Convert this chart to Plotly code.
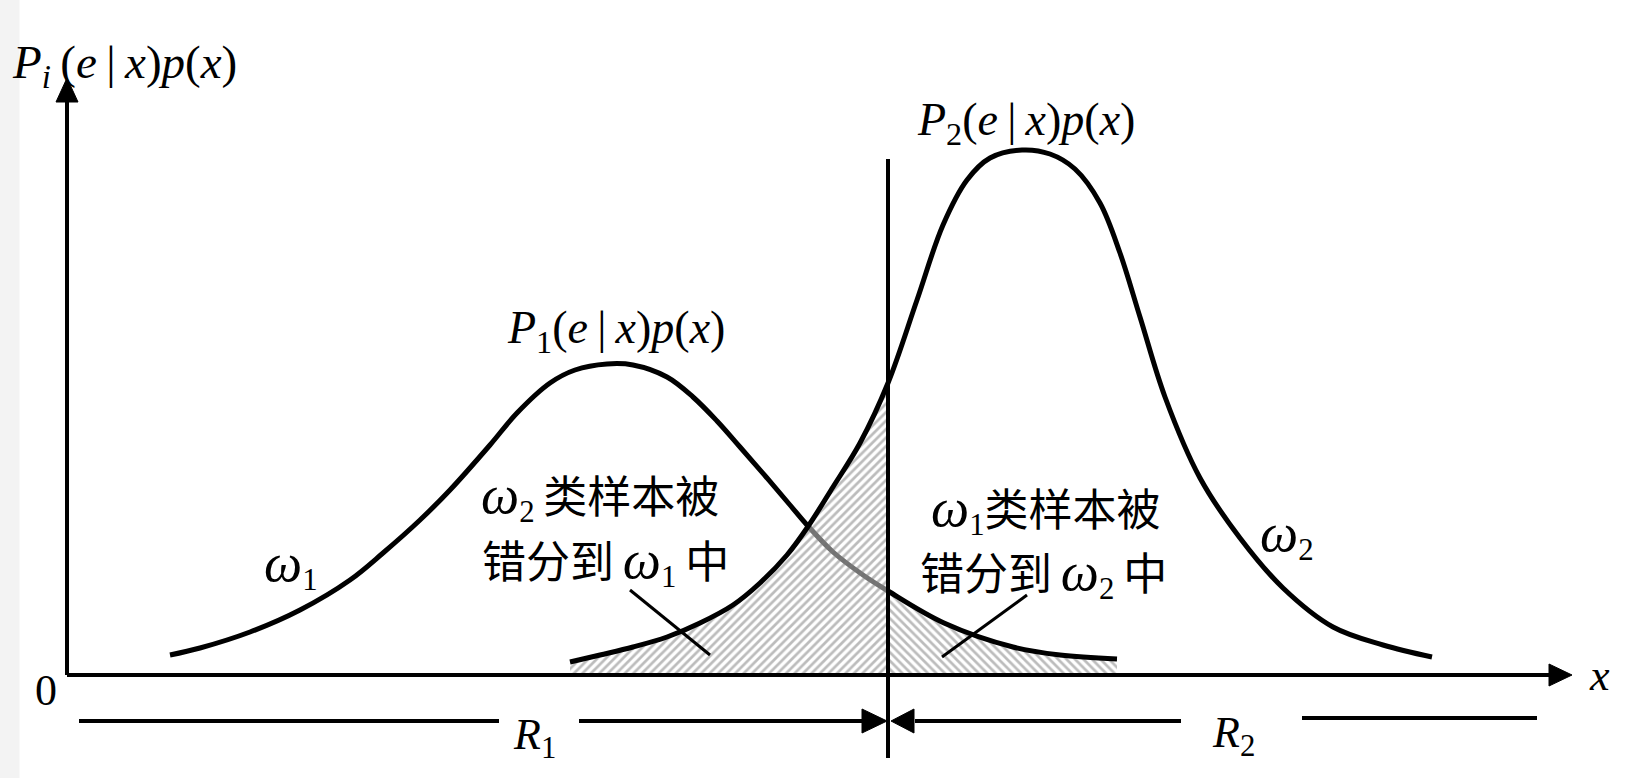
import plotly.graph_objects as go

# ---- data (x: position along the x axis, y: height above it) ----
c1_x = [103, 133, 183, 233, 283, 316, 353, 383, 423, 450, 483, 508, 540, 566, 600, 626,
        650, 673, 700, 723, 740, 766, 796, 821, 877, 946, 993, 1050]
c1_y = [20, 27, 43, 65, 95, 122, 155, 185, 230, 262, 292, 305, 311, 310, 298, 278,
        254, 228, 197, 170, 150, 123, 100, 84, 52, 28, 20, 16]
c2_x = [503, 533, 566, 600, 633, 666, 693, 720, 740, 766, 793, 821, 850, 876, 900, 923,
        955, 983, 1008, 1033, 1053, 1073, 1098, 1133, 1173, 1216, 1266, 1316, 1365]
c2_y = [13, 20, 28, 38, 52, 70, 92, 120, 147, 188, 232, 292, 375, 450, 495, 517,
        525, 521, 506, 472, 422, 358, 278, 197, 137, 87, 48, 30, 18]
decision_x = 821

FONT = "Liberation Serif, 'Noto Sans CJK SC', serif"
BLACK = "black"
SPL = dict(shape="spline", smoothing=1.0)

fig = go.Figure()

# right hatched region: omega1 samples on the omega2 side
r_x = [x for x in c1_x if x >= decision_x]
r_y = [y for x, y in zip(c1_x, c1_y) if x >= decision_x]
fig.add_trace(go.Scatter(
    x=r_x, y=r_y, mode="lines", line=dict(width=0, **SPL),
    fill="tozeroy",
    fillpattern=dict(shape="\\", size=6, solidity=0.45, fgcolor="#7a7a7a",
                     bgcolor="rgba(255,255,255,0)"),
    hoverinfo="skip"))

# curve 1
fig.add_trace(go.Scatter(x=c1_x, y=c1_y, mode="lines",
                         line=dict(color=BLACK, width=5, **SPL), hoverinfo="skip"))

# left hatched region: omega2 samples on the omega1 side (drawn over curve 1)
l_x = [x for x in c2_x if x <= decision_x]
l_y = [y for x, y in zip(c2_x, c2_y) if x <= decision_x]
fig.add_trace(go.Scatter(
    x=l_x, y=l_y, mode="lines", line=dict(width=0, **SPL),
    fill="tozeroy",
    fillpattern=dict(shape="/", size=6, solidity=0.45, fgcolor="#7a7a7a",
                     bgcolor="rgba(255,255,255,0.45)"),
    hoverinfo="skip"))

# curve 2
fig.add_trace(go.Scatter(x=c2_x, y=c2_y, mode="lines",
                         line=dict(color=BLACK, width=5, **SPL), hoverinfo="skip"))

shapes = []


def line(x0, y0, x1, y1, w=4):
    shapes.append(dict(type="line", xref="x", yref="y", x0=x0, y0=y0, x1=x1, y1=y1,
                       line=dict(color=BLACK, width=w), layer="above"))


def tri(pts):
    p = "M " + " L ".join(f"{a},{b}" for a, b in pts) + " Z"
    shapes.append(dict(type="path", xref="x", yref="y", path=p, fillcolor=BLACK,
                       line=dict(color=BLACK, width=1), layer="above"))


# light gray strip at the left edge
shapes.append(dict(type="rect", xref="paper", yref="paper", x0=0, x1=0.012, y0=0, y1=1,
                   fillcolor="#f3f3f3", line=dict(width=0), layer="below"))

# axes
line(0, 0, 0, 575)
tri([(0, 597), (-11, 573), (11, 573)])
line(0, 0, 1485, 0)
tri([(1505, 0), (1482, 11), (1482, -11)])

# decision boundary
line(decision_x, -83, decision_x, 516)

# pointer lines
line(563, 85, 643, 20, w=3)
line(960, 80, 875, 18, w=3)

# region arrows
line(12, -46, 432, -46)
line(512, -46, 800, -46)
tri([(decision_x - 1, -46), (decision_x - 26, -34), (decision_x - 26, -58)])
line(848, -46, 1114, -46)
tri([(decision_x + 3, -46), (decision_x + 26, -34), (decision_x + 26, -58)])
line(1235, -43, 1470, -43)

annotations = []


def txt(x, y, s, size=44, xanchor="center"):
    annotations.append(dict(x=x, y=y, xref="x", yref="y", text=s, showarrow=False,
                            xanchor=xanchor, yanchor="middle",
                            font=dict(family=FONT, size=size, color=BLACK)))


ts = "\u2009"
W = '<span style="font-size:54px"><i>ω</i></span>'
txt(-57, 610, f"<i>P</i><sub><i>i</i></sub>{ts}(<i>e</i>{ts}|{ts}<i>x</i>)<i>p</i>(<i>x</i>)",
    size=47, xanchor="left")
txt(549, 344, f"<i>P</i><sub>1</sub>(<i>e</i>{ts}|{ts}<i>x</i>)<i>p</i>(<i>x</i>)", size=46)
txt(959, 552, f"<i>P</i><sub>2</sub>(<i>e</i>{ts}|{ts}<i>x</i>)<i>p</i>(<i>x</i>)", size=46)
txt(224, 110, f"{W}<sub>1</sub>")
txt(1220, 140, f"{W}<sub>2</sub>")
txt(412, 178, f"{W}<sub>2</sub>{ts}类样本被", xanchor="left")
txt(413, 113, f"错分到{ts}{W}<sub>1</sub>{ts}中", xanchor="left")
txt(862, 165, f"{W}<sub>1</sub>类样本被", xanchor="left")
txt(851, 101, f"错分到{ts}{W}<sub>2</sub>{ts}中", xanchor="left")
txt(-21, -15, "0")
txt(1532, 0, "<i>x</i>")
txt(467, -62, "<i>R</i><sub>1</sub>")
txt(1166, -60, "<i>R</i><sub>2</sub>")

fig.update_layout(
    width=1628, height=778,
    margin=dict(l=0, r=0, t=0, b=0),
    paper_bgcolor="white", plot_bgcolor="white",
    showlegend=False,
    xaxis=dict(range=[-67, 1561], visible=False, fixedrange=True),
    yaxis=dict(range=[-103, 675], visible=False, fixedrange=True),
    shapes=shapes, annotations=annotations,
)

fig.write_html("out.html", config={"displayModeBar": False},
               post_script="document.body.style.margin='0px';")
